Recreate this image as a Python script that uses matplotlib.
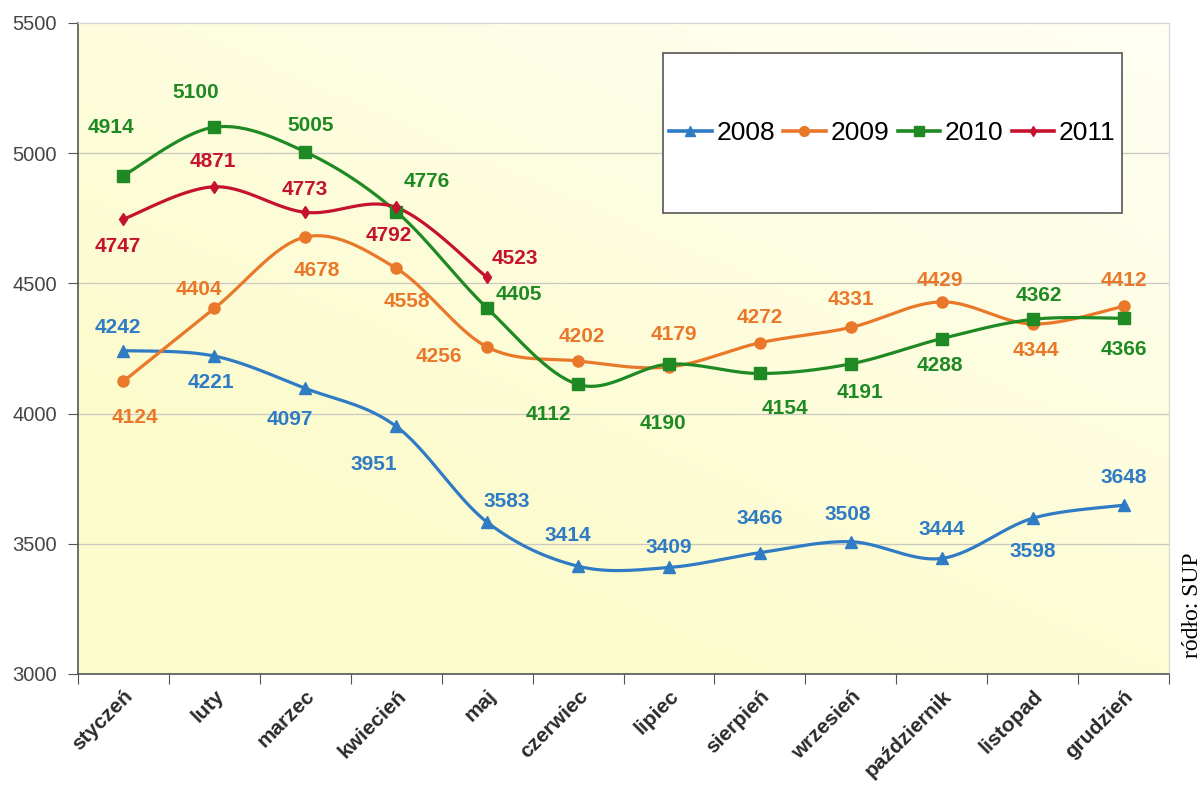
import numpy as np
import matplotlib
matplotlib.use("Agg")
import matplotlib.pyplot as plt
from matplotlib.patches import Rectangle
from matplotlib.colors import LinearSegmentedColormap

plt.rcParams['font.family'] = ['Liberation Sans', 'DejaVu Sans']

# dane
miesiace = ["styczeń", "luty", "marzec", "kwiecień", "maj", "czerwiec",
            "lipiec", "sierpień", "wrzesień", "październik", "listopad", "grudzień"]
lata = ["2008", "2009", "2010", "2011"]
v2008 = [4242, 4221, 4097, 3951, 3583, 3414, 3409, 3466, 3508, 3444, 3598, 3648]
v2009 = [4124, 4404, 4678, 4558, 4256, 4202, 4179, 4272, 4331, 4429, 4344, 4412]
v2010 = [4914, 5100, 5005, 4776, 4405, 4112, 4190, 4154, 4191, 4288, 4362, 4366]
v2011 = [4747, 4871, 4773, 4792, 4523]
y_ticks = [3000, 3500, 4000, 4500, 5000, 5500]

# styl
kolory = ["#2F7BC4", "#E9782A", "#1F8A23", "#C4122F"]
markery = ["^", "o", "s", "d"]
rozm = [8, 8, 8.5, 6]
# przesuniecia etykiet (piksele)
off2008 = [(-6, 23), (-3, -26), (-15, -31), (-22, -38), (20, 21), (-10, 31),
           (0, 20), (0, 34), (-3, 27), (0, 29), (0, -33), (0, 28)]
off2009 = [(11, -36), (-16, 19), (12, -33), (11, -33), (-48, -10), (4, 24),
           (5, 32), (0, 25), (0, 28), (-2, 21), (3, -26), (0, 26)]
off2010 = [(-13, 48), (-19, 35), (5, 26), (31, 30), (32, 14), (-30, -30),
           (-6, -59), (25, -35), (9, -29), (-2, -27), (6, 24), (0, -31)]
off2011 = [(-6, -27), (-2, 25), (-1, 23), (-7, -28), (28, 19)]


def wygladz(x, y, n=30):
    # krzywa Catmull-Rom jak "wygladzona linia" w Excelu
    x = np.asarray(x, float)
    y = np.asarray(y, float)
    px = np.concatenate([[x[0]], x, [x[-1]]])
    py = np.concatenate([[y[0]], y, [y[-1]]])
    xs, ys = [], []
    t = np.linspace(0, 1, n)
    for i in range(1, len(px) - 2):
        p0, p1, p2, p3 = px[i-1], px[i], px[i+1], px[i+2]
        q0, q1, q2, q3 = py[i-1], py[i], py[i+1], py[i+2]
        c1x, c1y = p1 + (p2 - p0) / 6, q1 + (q2 - q0) / 6
        c2x, c2y = p2 - (p3 - p1) / 6, q2 - (q3 - q1) / 6
        bx = (1-t)**3*p1 + 3*(1-t)**2*t*c1x + 3*(1-t)*t**2*c2x + t**3*p2
        by = (1-t)**3*q1 + 3*(1-t)**2*t*c1y + 3*(1-t)*t**2*c2y + t**3*q2
        xs.extend(bx)
        ys.extend(by)
    return np.array(xs), np.array(ys)


fig = plt.figure(figsize=(12.03, 7.85), dpi=100)
ax = fig.add_axes([78/1203, 1 - 674/785, (1169-78)/1203, (674-23)/785])

# tlo z gradientem
cmap = LinearSegmentedColormap.from_list("tlo", ["#FFFFF4", "#FCFBCB"])
gx, gy = np.meshgrid(np.linspace(0, 1, 200), np.linspace(0, 1, 200))
grad = np.clip(0.75 * gy + 0.55 * (1 - gx), 0, 1)
ax.imshow(grad, cmap=cmap, extent=(-0.5, 11.5, 3000, 5500), origin='upper',
          aspect='auto', zorder=0)

for yt in y_ticks[1:-1]:
    ax.axhline(yt, color="#C8C8C0", lw=0.9, zorder=1)

serie = [v2008, v2009, v2010, v2011]
offs = [off2008, off2009, off2010, off2011]
uchwyty = []
for dane, kol, mk, rz, off, rok in zip(serie, kolory, markery, rozm, offs, lata):
    x = np.arange(len(dane))
    sx, sy = wygladz(x, dane)
    ax.plot(sx, sy, color=kol, lw=2.3, zorder=3, solid_capstyle='round')
    ax.plot(x, dane, ls='none', marker=mk, ms=rz, color=kol, zorder=4)
    h, = ax.plot([], [], color=kol, lw=2.6, marker=mk, ms=rz - 1, label=rok)
    uchwyty.append(h)
    for xi, val, (dx, dy) in zip(x, dane, off):
        ax.annotate(str(val), (xi, val), xytext=(dx, dy), textcoords='offset pixels',
                    ha='center', va='center', fontsize=15, fontweight='bold',
                    color=kol, zorder=5)

ax.set_xlim(-0.5, 11.5)
ax.set_ylim(3000, 5500)
ax.set_yticks(y_ticks)
ax.set_yticklabels([str(v) for v in y_ticks], fontsize=14.5, color="#454545")
ax.set_xticks(np.arange(-0.5, 12, 1))
ax.set_xticklabels([])
ax.set_xticks(np.arange(12), minor=True)
ax.set_xticklabels(miesiace, minor=True, rotation=45, ha='right',
                   rotation_mode='anchor', fontsize=15, fontweight='bold',
                   color="#2A2A2A")
ax.tick_params(axis='x', which='major', length=7, color="#555555", direction='out')
ax.tick_params(axis='x', which='minor', length=0, pad=9)
ax.tick_params(axis='y', length=7, color="#555555", direction='out', pad=8)

for s in ['left', 'bottom']:
    ax.spines[s].set_color("#555555")
    ax.spines[s].set_linewidth(1.2)
for s in ['top', 'right']:
    ax.spines[s].set_color("#D8D8D0")
    ax.spines[s].set_linewidth(0.9)

# ramka legendy
x0 = (663 - 78) / 1091
y0 = (674 - 213) / 651
w = (1122 - 663) / 1091
hgt = (213 - 53) / 651
ax.add_patch(Rectangle((x0, y0), w, hgt, transform=ax.transAxes, facecolor='white',
                       edgecolor='#555555', lw=1.2, zorder=6))
leg = ax.legend(handles=uchwyty, loc='center', bbox_to_anchor=(x0 + w/2, y0 + hgt/2),
                ncol=4, frameon=False, fontsize=19, handlelength=1.6,
                handletextpad=0.2, columnspacing=0.3, borderaxespad=0)
leg.set_zorder(7)

fig.text(1193/1203, 1 - 605/785, "ródło: SUP", rotation=90, ha='center', va='center',
         fontsize=17, family=['Liberation Serif', 'DejaVu Serif'])

fig.savefig("out.png", dpi=100)
